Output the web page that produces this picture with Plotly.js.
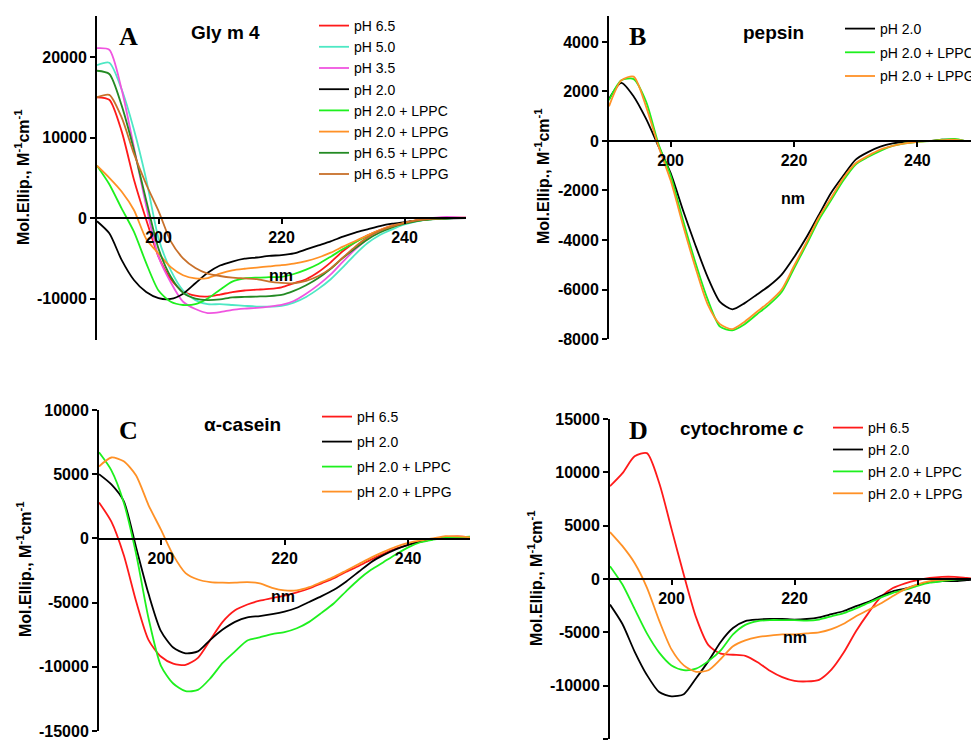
<!DOCTYPE html>
<html>
<head>
<meta charset="utf-8">
<script src="https://cdn.plot.ly/plotly-3.0.1.min.js"></script>
<style>
  html, body { margin: 0; padding: 0; overflow: hidden; background: #fff; }
  #chart { width: 990px; height: 745px; }
</style>
</head>
<body>
<div id="chart"></div>
<script>
// ---------- data ----------
const nm = [190,192,194,196,198,200,202,204,206,208,210,212,214,216,218,220,222,224,226,228,230,232,234,236,238,240,242,244,246,248,250];

// Panel A: Gly m 4
const glyLabels = ["pH 6.5","pH 5.0","pH 3.5","pH 2.0","pH 2.0 + LPPC","pH 2.0 + LPPG","pH 6.5 + LPPC","pH 6.5 + LPPG"];
const gly_pH65 = [15000,14700,10800,4800,-200,-4800,-7600,-9100,-9650,-9750,-9500,-9200,-9000,-8900,-8800,-8600,-8100,-7600,-6700,-5500,-4100,-3000,-2150,-1500,-950,-580,-290,-120,0,40,40];
const gly_pH50 = [19000,19300,16000,11000,4800,-2500,-6500,-9000,-10200,-10700,-10700,-10800,-10900,-11000,-11000,-10900,-10500,-9800,-8800,-7600,-6100,-4500,-3100,-2100,-1400,-800,-400,-170,-40,0,0];
const gly_pH35 = [21100,20900,16000,8800,1500,-4800,-8000,-10400,-11300,-11800,-11700,-11400,-11250,-11150,-11000,-10800,-10300,-9400,-8300,-7000,-5400,-3900,-2600,-1700,-1000,-600,-300,-50,120,120,40];
const gly_pH20 = [-400,-1900,-5200,-7700,-9200,-9950,-10050,-9400,-8100,-6800,-5900,-5400,-5050,-4900,-4700,-4600,-4400,-3900,-3400,-2900,-2300,-1800,-1400,-1000,-700,-500,-290,-170,-80,-40,0];
const gly_pH20_LPPC = [6500,4200,1200,-1700,-5600,-9000,-10400,-10800,-10700,-10000,-8900,-7900,-7500,-7400,-7350,-7300,-6950,-6400,-5700,-4800,-3850,-3000,-2200,-1550,-1050,-660,-330,-170,-40,0,0];
const gly_pH20_LPPG = [6500,5000,3300,1000,-2600,-4400,-6100,-7100,-7500,-7450,-6900,-6500,-6300,-6150,-6000,-5850,-5650,-5350,-4900,-4300,-3550,-2850,-2150,-1500,-950,-580,-250,-120,-40,0,0];
const gly_pH65_LPPC = [18300,17900,14000,8500,2200,-3800,-7300,-9300,-10000,-10200,-10100,-9850,-9800,-9750,-9700,-9550,-9050,-8350,-7450,-6300,-4950,-3750,-2650,-1800,-1150,-700,-370,-170,-80,0,0];
const gly_pH65_LPPG = [15000,15300,12500,8000,4200,900,-2900,-5000,-6200,-6900,-7200,-7400,-7500,-7600,-7900,-8050,-8100,-7800,-7200,-6250,-4900,-3550,-2400,-1600,-1040,-620,-290,-120,-40,0,0];

// Panel B: pepsin
const pepLabels = ["pH 2.0","pH 2.0 + LPPC","pH 2.0 + LPPG"];
const pep_pH20 = [1700,2350,1800,900,-200,-1300,-2800,-4200,-5500,-6500,-6800,-6550,-6200,-5850,-5400,-4700,-3900,-3000,-2100,-1400,-750,-450,-230,-100,-30,0,0,50,50,0,0];
const pep_pH20_LPPC = [1650,2450,2500,1600,-100,-1400,-3200,-4900,-6400,-7500,-7650,-7400,-7000,-6600,-6100,-5150,-4200,-3200,-2400,-1600,-950,-650,-400,-200,-100,-30,0,50,80,0,0];
const pep_pH20_LPPG = [1400,2450,2600,1400,-200,-1600,-3400,-5100,-6600,-7400,-7600,-7300,-6900,-6500,-6000,-5050,-4100,-3100,-2300,-1500,-900,-600,-350,-200,-100,-30,0,30,50,0,0];

// Panel C: alpha-casein
const casLabels = ["pH 6.5","pH 2.0","pH 2.0 + LPPC","pH 2.0 + LPPG"];
const cas_pH65 = [2800,1300,-1300,-4900,-7900,-9200,-9750,-9850,-9300,-7900,-6500,-5600,-5150,-4850,-4650,-4450,-4200,-3900,-3500,-3100,-2600,-2150,-1650,-1200,-800,-500,-250,-50,100,150,80];
const cas_pH20 = [5000,4200,2900,-700,-4300,-7200,-8500,-8950,-8800,-7900,-7100,-6500,-6150,-6050,-5900,-5700,-5400,-4950,-4500,-4000,-3350,-2600,-1850,-1300,-850,-500,-250,-50,50,80,80];
const cas_pH20_LPPC = [6700,5300,2800,-1200,-6200,-9900,-11300,-11900,-11800,-10900,-9700,-8800,-7950,-7700,-7450,-7300,-7000,-6500,-5800,-5050,-4100,-3200,-2450,-1850,-1250,-700,-300,-100,50,100,130];
const cas_pH20_LPPG = [5600,6300,6000,4900,2600,700,-1300,-2700,-3200,-3400,-3450,-3450,-3400,-3500,-3850,-4050,-4050,-3800,-3400,-3000,-2500,-2000,-1500,-1050,-650,-350,-150,0,180,150,80];

// Panel D: cytochrome c
const cytLabels = ["pH 6.5","pH 2.0","pH 2.0 + LPPC","pH 2.0 + LPPG"];
const cyt_pH65 = [8700,9900,11500,11800,9000,4700,400,-3600,-6200,-7000,-7100,-7200,-7800,-8600,-9200,-9550,-9600,-9450,-8500,-6900,-4900,-3200,-1700,-850,-400,-100,100,200,200,100,0];
const cyt_pH20 = [-2400,-4200,-6800,-9000,-10600,-11000,-10800,-9300,-7700,-5900,-4600,-3950,-3800,-3750,-3750,-3800,-3750,-3600,-3300,-3000,-2550,-2150,-1600,-1150,-900,-550,-300,-200,-200,-100,-30];
const cyt_pH20_LPPC = [1200,-500,-2800,-5100,-6900,-8100,-8550,-8400,-7700,-6700,-5200,-4300,-3950,-3850,-3850,-3850,-3900,-3800,-3500,-3200,-2750,-2250,-1750,-1300,-1000,-650,-350,-200,-50,0,0];
const cyt_pH20_LPPG = [4400,3100,1500,-800,-3900,-6600,-8100,-8700,-8550,-7500,-6300,-5750,-5450,-5300,-5200,-5200,-5100,-5000,-4700,-4200,-3500,-2900,-2300,-1600,-950,-500,-200,-80,0,0,0];

const xTicks = [200,220,240];
const yTicksA = [-10000, 0, 10000, 20000];
const yTicksB = [-8000, -6000, -4000, -2000, 0, 2000, 4000];
const yTicksC = [-15000, -10000, -5000, 0, 5000, 10000];
const yTicksD = [-15000, -10000, -5000, 0, 5000, 10000, 15000];
const titleA = "Gly m 4", titleB = "pepsin", titleC = "α-casein", titleD = "cytochrome <i>c</i>";
const yTitle = "Mol.Ellip., M<sup>-1</sup>cm<sup>-1</sup>";

// ---------- styling ----------
const W = 990, H = 745;
const px = v => v / W;
const py = v => 1 - v / H;
const SANS = "Liberation Sans, Arial, sans-serif";
const SERIF = "Liberation Serif, Times New Roman, serif";

const C = {
  red: "#ff1a1a", cyan: "#4ee8c4", magenta: "#f055e0", black: "#000000",
  lime: "#1ef01e", orange: "#ff9126", dkgreen: "#238a23", brown: "#c8702a"
};

function tr(y, name, color, xa, ya, leg) {
  return {
    x: nm, y: y, name: name, type: "scatter", mode: "lines",
    line: {color: color, width: 1.8, shape: "spline", smoothing: 0.7},
    xaxis: xa, yaxis: ya, legend: leg, legendgroup: leg + name,
    showlegend: true, hoverinfo: "skip"
  };
}

const data = [
  tr(gly_pH65, glyLabels[0], C.red, "x", "y", "legend"),
  tr(gly_pH50, glyLabels[1], C.cyan, "x", "y", "legend"),
  tr(gly_pH35, glyLabels[2], C.magenta, "x", "y", "legend"),
  tr(gly_pH20, glyLabels[3], C.black, "x", "y", "legend"),
  tr(gly_pH20_LPPC, glyLabels[4], C.lime, "x", "y", "legend"),
  tr(gly_pH20_LPPG, glyLabels[5], C.orange, "x", "y", "legend"),
  tr(gly_pH65_LPPC, glyLabels[6], C.dkgreen, "x", "y", "legend"),
  tr(gly_pH65_LPPG, glyLabels[7], C.brown, "x", "y", "legend"),

  tr(pep_pH20, pepLabels[0], C.black, "x2", "y2", "legend2"),
  tr(pep_pH20_LPPC, pepLabels[1], C.lime, "x2", "y2", "legend2"),
  tr(pep_pH20_LPPG, pepLabels[2], C.orange, "x2", "y2", "legend2"),

  tr(cas_pH65, casLabels[0], C.red, "x3", "y3", "legend3"),
  tr(cas_pH20, casLabels[1], C.black, "x3", "y3", "legend3"),
  tr(cas_pH20_LPPC, casLabels[2], C.lime, "x3", "y3", "legend3"),
  tr(cas_pH20_LPPG, casLabels[3], C.orange, "x3", "y3", "legend3"),

  tr(cyt_pH65, cytLabels[0], C.red, "x4", "y4", "legend4"),
  tr(cyt_pH20, cytLabels[1], C.black, "x4", "y4", "legend4"),
  tr(cyt_pH20_LPPC, cytLabels[2], C.lime, "x4", "y4", "legend4"),
  tr(cyt_pH20_LPPG, cytLabels[3], C.orange, "x4", "y4", "legend4")
];

const tickFont = {family: SANS, size: 16, color: "#000", weight: "bold"};

function yAxis(dom, range, tickvals, anchor) {
  return {
    domain: dom, range: range, anchor: anchor,
    tickmode: "array", tickvals: tickvals, ticktext: tickvals.map(String),
    showline: true, linewidth: 2, linecolor: "#000", ticks: "outside",
    ticklen: 5, tickwidth: 2, tickcolor: "#000", showgrid: false, zeroline: false,
    tickfont: tickFont, fixedrange: true
  };
}
function xAxis(dom, ydom, yrange, lw) {
  const pos = ydom[0] + (0 - yrange[0]) / (yrange[1] - yrange[0]) * (ydom[1] - ydom[0]);
  return {
    domain: dom, range: [190, 250], anchor: "free", position: pos,
    tickmode: "array", tickvals: xTicks, ticktext: xTicks.map(String),
    showline: true, linewidth: lw, linecolor: "#000", ticks: "outside",
    ticklen: 5, tickwidth: 2, tickcolor: "#000", showgrid: false, zeroline: false,
    tickfont: tickFont, fixedrange: true
  };
}

const yA = [py(340), py(16)], rA = [-15150, 25100];
const yB = [py(339), py(16)], rB = [-8000, 5050];
const yC = [py(731), py(410)], rC = [-15000, 10000];
const yD = [py(739), py(419)], rD = [-15000, 15000];

function leg(x, y, gap, order) {
  return {
    x: px(x), y: py(y), xanchor: "left", yanchor: "top",
    font: {family: SANS, size: 14, color: "#000"}, bgcolor: "rgba(0,0,0,0)",
    borderwidth: 0, tracegroupgap: gap, traceorder: order
  };
}

function ann(text, x, y, font, extra) {
  return Object.assign({
    text: "<b>" + text + "</b>", x: px(x), y: py(y), xref: "paper", yref: "paper",
    xanchor: "center", yanchor: "middle", showarrow: false, font: font
  }, extra || {});
}
const letterFont = {family: SERIF, size: 26, color: "#000"};
const titleFont = {family: SANS, size: 19, color: "#000"};
const nmFont = {family: SANS, size: 16, color: "#000"};
const yTitleFont = {family: SANS, size: 16, color: "#000"};

const layout = {
  width: W, height: H,
  margin: {l: 0, r: 0, t: 0, b: 0, autoexpand: false},
  paper_bgcolor: "#fff", plot_bgcolor: "rgba(0,0,0,0)",
  showlegend: true,
  xaxis: xAxis([px(97), px(466)], yA, rA, 2),
  yaxis: yAxis(yA, rA, yTicksA, "x"),
  xaxis2: xAxis([px(609), px(979)], yB, rB, 2),
  yaxis2: yAxis(yB, rB, yTicksB, "x2"),
  xaxis3: xAxis([px(99), px(470)], yC, rC, 1.6),
  yaxis3: yAxis(yC, rC, yTicksC, "x3"),
  xaxis4: xAxis([px(610), px(979)], yD, rD, 2),
  yaxis4: yAxis(yD, rD, yTicksD, "x4"),
  legend: leg(314, 10, 0, "normal"),
  legend2: leg(840, 13, 2.5, "grouped"),
  legend3: leg(317, 401, 3.8, "grouped"),
  legend4: leg(828, 412, 0.7, "grouped"),
  annotations: [
    ann("A", 128, 37, letterFont), ann("B", 637, 37, letterFont),
    ann("C", 128, 430, letterFont), ann("D", 638, 430, letterFont),
    ann(titleA, 225, 32, titleFont), ann(titleB, 773, 32, titleFont),
    ann(titleC, 242, 425, titleFont), ann(titleD, 742, 428, titleFont),
    ann("nm", 281, 275, nmFont), ann("nm", 793, 198, nmFont),
    ann("nm", 283, 596, nmFont), ann("nm", 795, 637, nmFont),
    ann(yTitle, 22, 178, yTitleFont, {textangle: -90}),
    ann(yTitle, 542, 177, yTitleFont, {textangle: -90}),
    ann(yTitle, 24, 570, yTitleFont, {textangle: -90}),
    ann(yTitle, 535, 579, yTitleFont, {textangle: -90})
  ]
};

Plotly.newPlot("chart", data, layout, {displayModeBar: false, staticPlot: true});
</script>
</body>
</html>
